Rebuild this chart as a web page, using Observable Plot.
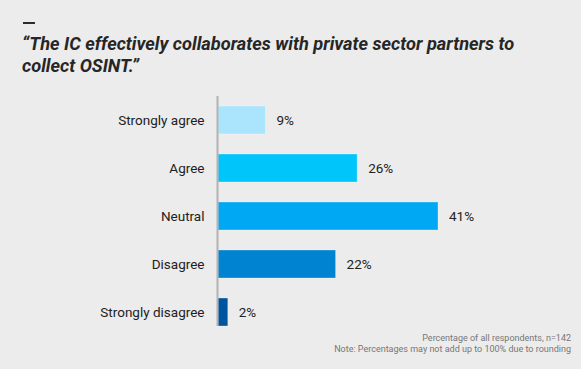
<!DOCTYPE html>
<html>
<head>
<meta charset="utf-8">
<script src="https://cdn.jsdelivr.net/npm/d3@7"></script>
<script src="https://cdn.jsdelivr.net/npm/@observablehq/plot@0.6"></script>
<style>
  html, body { margin: 0; padding: 0; background: #ececec; }
  #wrap { position: relative; width: 581px; height: 369px; background: #ececec; overflow: hidden; font-family: Roboto, sans-serif; }
  #dash { position: absolute; left: 23px; top: 22px; width: 12px; height: 2px; background: #2b2b2b; }
  #title { position: absolute; left: 22px; top: 33.3px; font-size: 18.2px; line-height: 22px; font-weight: 700; font-style: italic; color: #262626; white-space: nowrap; }
  #foot { position: absolute; right: 10px; top: 333px; font-size: 9px; line-height: 11px; color: #777; text-align: right; }
  #chart { position: absolute; left: 0; top: 0; }
</style>
</head>
<body>
<div id="wrap">
  <div id="dash"></div>
  <div id="title">“The IC effectively collaborates with private sector partners to<br>collect OSINT.”</div>
  <div id="chart"></div>
  <div id="foot">Percentage of all respondents, n=142<br>Note: Percentages may not add up to 100% due to rounding</div>
</div>
<script>
const categories = ["Strongly agree", "Agree", "Neutral", "Disagree", "Strongly disagree"];
const values = [9, 26, 41, 22, 2];
const colors = ["#aae5fd", "#00c5fa", "#00a8f3", "#0083d0", "#00559e"];

const data = categories.map((c, i) => ({category: c, value: values[i]}));

const chart = Plot.plot({
  width: 581,
  height: 369,
  marginTop: 96,
  marginBottom: 33,
  marginLeft: 217,
  marginRight: 143,
  style: {background: "transparent", fontFamily: "Roboto, sans-serif", fontSize: "13.5px", color: "#222"},
  x: {domain: [0, 41], axis: null},
  y: {domain: categories, paddingInner: 20 / 48, paddingOuter: 10 / 48, label: null},
  color: {domain: categories, range: colors},
  marks: [
    Plot.axisY({tickSize: 0, tickPadding: 13, fontSize: 13.5, fill: "#222", label: null}),
    Plot.barX(data, {x: "value", y: "category", fill: "category", insetLeft: 1, stroke: "#ffffff", strokeOpacity: 0.3}),
    Plot.ruleX([0], {stroke: "#b3b3b3", strokeWidth: 2, insetBottom: 10}),
    Plot.text(data, {x: "value", y: "category", text: d => d.value + "%", textAnchor: "start", dx: 10.5, fontSize: 13.5, fill: "#222"})
  ]
});
document.getElementById("chart").appendChild(chart);
</script>
</body>
</html>
